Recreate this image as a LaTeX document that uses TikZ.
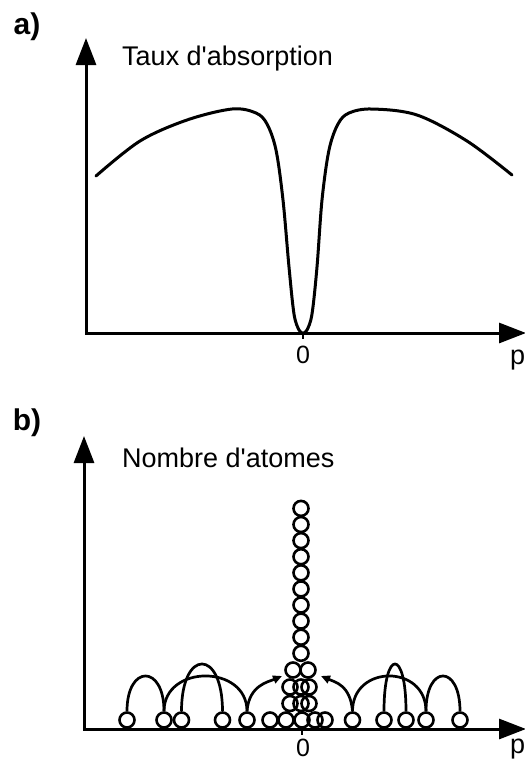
\documentclass[tikz,border=0pt]{standalone}
\usepackage{fontspec}
\setmainfont{Liberation Sans}
\usetikzlibrary{arrows.meta}
\begin{document}
\begin{tikzpicture}[x=1pt,y=-1pt,
  axisline/.style={line width=3pt, line join=miter, {Triangle[length=27pt,width=20pt]}-{Triangle[length=27pt,width=20pt]}},
  curveline/.style={line width=3pt, line join=round, line cap=round},
  atom/.style={draw, circle, minimum size=15pt, inner sep=0pt, line width=2.6pt},
  hop/.style={line width=2.7pt},
  hoparrow/.style={line width=2.7pt, -{Triangle[length=9pt,width=8pt]}},
  lbl/.style={font=\fontsize{27}{27}\selectfont, inner sep=0pt},
  numlbl/.style={font=\fontsize{25}{25}\selectfont, inner sep=0pt},
  panel/.style={font=\fontsize{30}{30}\selectfont\bfseries, inner sep=0pt},
  tick/.style={line width=2pt}]
\useasboundingbox[fill=white] (0,0) rectangle (525,761);

% ---------- panel a ----------
\node[panel] (pa) at (27,27) {a)};
\coordinate (oa) at (86,333);
\coordinate (ya) at (86,38);
\coordinate (xa) at (526,333);
\draw[axisline] (ya) -- (oa) -- (xa);
\coordinate (ta0) at (303,333);
\draw[tick] (ta0) -- ++(0,6);
\node[lbl, anchor=base west] (ta) at (122,65) {Taux d\textquotesingle absorption};
\node[numlbl] (za) at (303,355) {0};
\node[lbl, anchor=base west] (pa2) at (510,364) {p};
\draw[curveline] plot[smooth, tension=0.55] coordinates {
  (96,176) (140,141) (187,120) (232,109) (256,113) (267,124) (276,150)
  (283,200) (289,267) (294,314) (299,330) (303,333) (307,330) (312,314)
  (317,267) (322,200) (329,150) (338,124) (349,113) (372,109) (417,115)
  (467,141) (512,175)};

% ---------- panel b ----------
\node[panel] (pb) at (27,423) {b)};
\coordinate (ob) at (84,729);
\coordinate (yb) at (84,436);
\coordinate (xb) at (526,729);
\draw[axisline] (yb) -- (ob) -- (xb);
\coordinate (tb0) at (302,729);
\draw[tick] (tb0) -- ++(0,6);
\node[lbl, anchor=base west] (tn) at (122,467) {Nombre d\textquotesingle atomes};
\node[numlbl] (zb) at (303,748) {0};
\node[lbl, anchor=base west] (pb2) at (510,753) {p};

% bottom row of atoms
\foreach \xx [count=\i] in {127,164,181.5,222.5,247,270,286,302,315,325,352.5,384,406,426,460}
  \node[atom] (b\i) at (\xx,720) {};
% stacked rows near p = 0
\foreach \xx [count=\i] in {290,301,309} \node[atom] (r\i) at (\xx,703.5) {};
\foreach \xx [count=\i] in {290,301,309} \node[atom] (s\i) at (\xx,687) {};
\foreach \xx [count=\i] in {293,308} \node[atom] (t\i) at (\xx,670) {};
\foreach \i in {0,...,9} \node[atom] (c\i) at (301,{653.3-16.1*\i}) {};

% hops
\draw[hop] (b1.north) .. controls +(0,-47) and +(0,-47) .. (b2.north);
\draw[hop] (b2.north) .. controls +(0,-47) and +(0,-47) .. (b5.north);
\draw[hop] (b3.north) .. controls +(0,-63) and +(0,-63) .. (b4.north);
\draw[hop] (b11.north) .. controls +(0,-47) and +(0,-47) .. (b14.north);
\draw[hop] (b12.north) .. controls +(0,-63) and +(0,-63) .. (b13.north);
\draw[hop] (b14.north) .. controls +(0,-47) and +(0,-47) .. (b15.north);
\coordinate (tipL) at (282,676);
\coordinate (tipR) at (321,676);
\draw[hoparrow] (b5.north) .. controls +(2,-26) and +(-14,6) .. (tipL);
\draw[hoparrow] (b11.north) .. controls +(-2,-26) and +(14,6) .. (tipR);
\end{tikzpicture}
\end{document}
